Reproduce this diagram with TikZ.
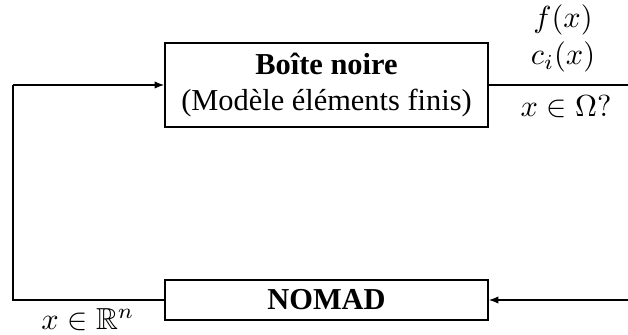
\documentclass[tikz,border=0pt]{standalone}
\usepackage{amssymb}
\usepackage[no-math]{fontspec}
\setmainfont{Liberation Serif}
\usetikzlibrary{arrows.meta}
\begin{document}
\begin{tikzpicture}[x=0.3289pt,y=-0.3289pt,
  blk/.style={draw,line width=0.45pt,inner sep=0pt,minimum width=106.2pt,align=center,font=\fontsize{10}{12}\selectfont},
  arr/.style={-{Latex[length=3.2pt,width=2.4pt]}},
  lbl/.style={inner sep=0pt,font=\fontsize{10}{12}\selectfont},
  every path/.style={line width=0.45pt}]
\useasboundingbox (0,0) rectangle (628,335);
\node[blk,minimum height=27.6pt] (bb) at (326.5,85) {\textbf{Boîte noire}\\(Modèle éléments finis)};
\node[blk,minimum height=13.2pt] (nomad) at (326.5,300) {\textbf{NOMAD}};
\coordinate (outR) at (628,85);
\coordinate (inR) at (628,300);
\coordinate (lt) at (13,85);
\coordinate (lb) at (13,300);
\draw[arr] (lt) -- (bb.west);
\draw (bb.east) -- (outR);
\draw[arr] (inR) -- (nomad.east);
\draw (nomad.west) -- (lb) -- (lt);
\node[lbl] (f) at (563,20) {$f(x)$};
\node[lbl] (c) at (563,57) {$c_i(x)$};
\node[lbl] (om) at (566,107) {$x\in\Omega?$};
\node[lbl] (rn) at (88,320) {$x\in\mathbb{R}^n$};
\end{tikzpicture}
\end{document}
